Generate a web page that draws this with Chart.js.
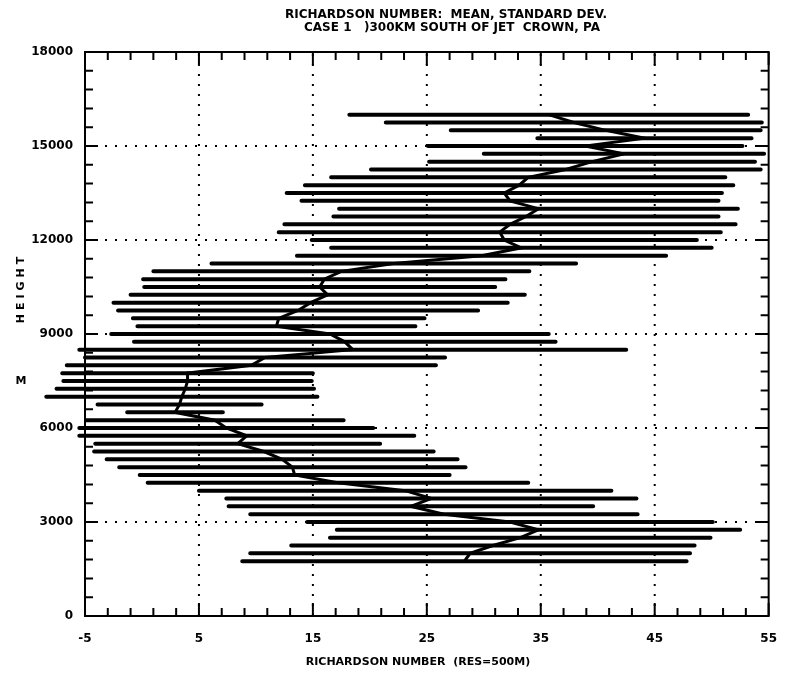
<!DOCTYPE html>
<html>
<head>
<meta charset="utf-8">
<script src="https://cdn.jsdelivr.net/npm/chart.js@4/dist/chart.umd.min.js"></script>
<style>
  html, body { margin: 0; padding: 0; background: #fff; }
  #wrap { width: 785px; height: 677px; position: relative; }
</style>
</head>
<body>
<div id="wrap"><canvas id="chart"></canvas></div>
<script>
// heights (m) of each averaging level
const heights = [
  1750, 2000, 2250, 2500, 2750, 3000, 3250, 3500, 3750, 4000,
  4250, 4500, 4750, 5000, 5250, 5500, 5750, 6000, 6250, 6500,
  6750, 7000, 7250, 7500, 7750, 8000, 8250, 8500, 8750, 9000,
  9250, 9500, 9750, 10000, 10250, 10500, 10750, 11000, 11250, 11500,
  11750, 12000, 12250, 12500, 12750, 13000, 13250, 13500, 13750, 14000,
  14250, 14500, 14750, 15000, 15250, 15500, 15750, 16000
];

// mean Richardson number at each level
const meanRi = [
  28.3, 28.8, 30.8, 33.2, 34.8, 32.3, 26.5, 23.6, 25.4, 23.1,
  17.2, 13.4, 13.2, 12.3, 10.7, 8.4, 9.2, 7.4, 6.4, 2.9,
  3.3, 3.5, 3.8, 4.0, 4.0, 9.6, 10.8, 18.5, 17.8, 16.5,
  11.8, 12.0, 13.7, 14.8, 16.3, 15.6, 16.0, 17.5, 22.1, 29.8,
  33.3, 31.8, 31.4, 32.3, 33.7, 34.8, 32.3, 31.8, 33.1, 33.9,
  37.2, 39.5, 42.3, 38.9, 44.1, 40.7, 37.9, 35.7
];

// standard deviation at each level
const stdRi = [
  19.5, 19.3, 17.7, 16.7, 17.7, 17.8, 17.0, 16.0, 18.0, 18.1,
  16.7, 13.6, 15.2, 15.4, 14.9, 12.5, 14.7, 12.9, 11.3, 4.2,
  7.2, 11.9, 11.3, 10.9, 11.0, 16.2, 15.8, 24.0, 18.5, 19.2,
  12.2, 12.8, 15.8, 17.3, 17.3, 15.4, 15.9, 16.5, 16.0, 16.2,
  16.7, 16.9, 19.4, 19.8, 16.9, 17.5, 18.3, 19.1, 18.8, 17.3,
  17.1, 14.3, 12.3, 13.8, 9.4, 13.6, 16.5, 17.5
];

const xTicks = [-5, 5, 15, 25, 35, 45, 55];
const yTicks = [0, 3000, 6000, 9000, 12000, 15000, 18000];

const titleLines = [
  'RICHARDSON NUMBER:  MEAN, STANDARD DEV.',
  'CASE 1   )300KM SOUTH OF JET  CROWN, PA'
];
const xTitle = 'RICHARDSON NUMBER  (RES=500M)';
const yTitle = 'HEIGHT';
const yUnit = 'M';

const FONT = "'DejaVu Sans', sans-serif";

// one broken line: left end, right end, gap, for every level
const barPoints = [];
heights.forEach((h, i) => {
  barPoints.push({ x: meanRi[i] - stdRi[i], y: h });
  barPoints.push({ x: meanRi[i] + stdRi[i], y: h });
  barPoints.push({ x: null, y: null });
});
const meanPoints = heights.map((h, i) => ({ x: meanRi[i], y: h }));

const framePlugin = {
  id: 'plotterFrame',
  beforeDatasetsDraw(chart) {
    const { ctx, chartArea, scales } = chart;
    const { left, right, top, bottom } = chartArea;
    const xs = scales.x;
    const ys = scales.y;

    ctx.save();
    ctx.strokeStyle = '#000';

    // dotted grid
    ctx.lineWidth = 2;
    ctx.setLineDash([2, 8]);
    xTicks.slice(1, -1).forEach((v) => {
      const px = xs.getPixelForValue(v);
      ctx.beginPath();
      ctx.moveTo(px, bottom);
      ctx.lineTo(px, top);
      ctx.stroke();
    });
    yTicks.slice(1, -1).forEach((v) => {
      const py = ys.getPixelForValue(v);
      ctx.beginPath();
      ctx.moveTo(left, py);
      ctx.lineTo(right, py);
      ctx.stroke();
    });
    ctx.setLineDash([]);

    // inward tick marks on all four sides
    ctx.lineWidth = 2;
    for (let v = -5; v <= 55; v += 2) {
      const px = xs.getPixelForValue(v);
      const len = xTicks.includes(v) ? 13 : 8;
      ctx.beginPath();
      ctx.moveTo(px, bottom);
      ctx.lineTo(px, bottom - len);
      ctx.moveTo(px, top);
      ctx.lineTo(px, top + len);
      ctx.stroke();
    }
    for (let v = 0; v <= 18000; v += 600) {
      const py = ys.getPixelForValue(v);
      const len = yTicks.includes(v) ? 13 : 8;
      ctx.beginPath();
      ctx.moveTo(left, py);
      ctx.lineTo(left + len, py);
      ctx.moveTo(right, py);
      ctx.lineTo(right - len, py);
      ctx.stroke();
    }

    // frame
    ctx.lineWidth = 2;
    ctx.strokeRect(left, top, right - left, bottom - top);
    ctx.restore();
  },
  afterDraw(chart) {
    const { ctx } = chart;
    ctx.save();
    ctx.fillStyle = '#000';
    ctx.textAlign = 'center';
    ctx.textBaseline = 'middle';
    ctx.font = `bold 12px ${FONT}`;
    ctx.fillText(titleLines[0], 446, 15);
    ctx.fillText(titleLines[1], 452, 28);

    ctx.font = `bold 11px ${FONT}`;
    ctx.fillText(xTitle, 418, 662);

    ctx.translate(21, 288);
    ctx.rotate(-Math.PI / 2);
    ctx.font = `bold 11px ${FONT}`;
    ctx.letterSpacing = '4px';
    ctx.fillText(yTitle, 0, 0);
    ctx.restore();

    ctx.save();
    ctx.fillStyle = '#000';
    ctx.font = `bold 11px ${FONT}`;
    ctx.textAlign = 'center';
    ctx.textBaseline = 'middle';
    ctx.fillText(yUnit, 21, 381);
    ctx.restore();
  }
};

new Chart(document.getElementById('chart'), {
  type: 'scatter',
  data: {
    datasets: [
      {
        label: 'Mean +/- std',
        data: barPoints,
        showLine: true,
        spanGaps: false,
        borderColor: '#000',
        borderWidth: 4,
        borderCapStyle: 'round',
        pointRadius: 0,
        clip: false
      },
      {
        label: 'Mean',
        data: meanPoints,
        showLine: true,
        borderColor: '#000',
        borderWidth: 3,
        pointRadius: 0,
        tension: 0
      }
    ]
  },
  options: {
    responsive: true,
    maintainAspectRatio: false,
    animation: false,
    layout: {
      padding: { top: 52, right: 8, left: 0, bottom: 0 }
    },
    plugins: {
      legend: { display: false },
      tooltip: { enabled: false },
      title: { display: false }
    },
    scales: {
      x: {
        type: 'linear',
        min: -5,
        max: 55,
        afterBuildTicks: (scale) => {
          scale.ticks = xTicks.map((v) => ({ value: v }));
        },
        afterFit: (scale) => {
          scale.height = 61;
        },
        grid: { display: false },
        border: { display: false },
        ticks: {
          color: '#000',
          padding: 8,
          maxRotation: 0,
          autoSkip: false,
          font: { family: FONT, size: 12, weight: 'bold' },
          callback: (value) => String(value)
        }
      },
      y: {
        type: 'linear',
        min: 0,
        max: 18000,
        afterBuildTicks: (scale) => {
          scale.ticks = yTicks.map((v) => ({ value: v }));
        },
        afterFit: (scale) => {
          scale.width = 85;
        },
        grid: { display: false },
        border: { display: false },
        ticks: {
          color: '#000',
          padding: 4,
          autoSkip: false,
          font: { family: FONT, size: 12, weight: 'bold' },
          callback: (value) => String(value)
        }
      }
    }
  },
  plugins: [framePlugin]
});
</script>
</body>
</html>
